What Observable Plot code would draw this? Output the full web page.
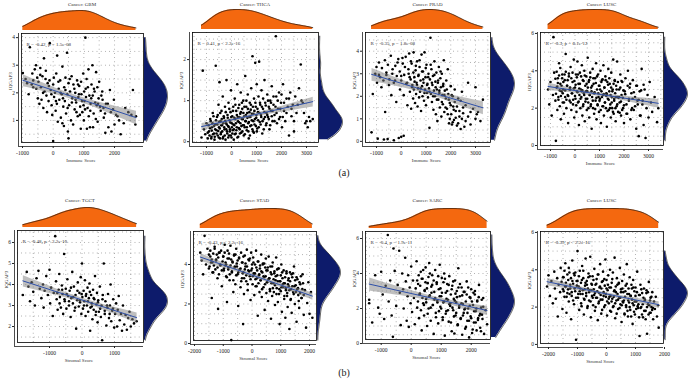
<!DOCTYPE html>
<html><head><meta charset="utf-8">
<script src="https://cdn.jsdelivr.net/npm/d3@7"></script>
<script src="https://cdn.jsdelivr.net/npm/@observablehq/plot@0.6"></script>
<style>
html,body{margin:0;padding:0;background:#fff;}
#chart{position:relative;width:688px;height:386px;overflow:hidden;font-family:"Liberation Serif","DejaVu Serif",serif;}
#chart svg{position:absolute;}
.lbl{position:absolute;white-space:nowrap;transform:translate(-50%,-50%);color:#333;line-height:1;}
</style></head><body><div id="chart"></div>
<script>
// ---- data (x = score, y = IQGAP3 expression) ----
const gbmPoints = [[-990,2.72],[-900,2.5],[-850,2.35],[-800,1.95],[-760,3.65],[-700,2.3],[-680,2.7],[-650,2.45],[-600,2.85],[-560,3.0],[-550,2.15],[-520,2.55],[-500,1.8],[-480,2.4],[-450,1.6],[-420,2.9],[-400,2.2],[-380,1.75],[-350,2.6],[-320,1.45],[-300,3.25],[-280,2.05],[-250,2.5],[-220,1.9],[-200,1.3],[-180,2.35],[-150,1.7],[-120,2.45],[-110,3.8],[-80,2.1],[-50,1.55],[-30,1.2],[0,0.25],[0,2.3],[30,1.85],[60,2.0],[80,1.35],[100,2.7],[120,1.6],[130,3.35],[150,0.95],[180,2.15],[200,1.75],[230,2.45],[250,1.1],[280,1.95],[300,2.95],[300,0.9],[330,1.5],[350,0.8],[360,2.2],[380,1.7],[400,2.55],[420,1.25],[450,3.45],[460,1.95],[480,0.6],[500,0.35],[500,2.35],[520,1.55],[550,2.05],[580,1.0],[600,2.6],[620,1.8],[650,0.85],[660,2.3],[700,1.4],[720,2.0],[750,1.65],[780,2.45],[800,1.15],[820,1.85],[850,2.25],[880,1.5],[900,0.7],[920,1.95],[950,1.3],[980,2.7],[1000,1.0],[1020,1.7],[1050,4.0],[1060,2.15],[1100,0.7],[1120,1.45],[1150,2.85],[1180,1.9],[1200,0.75],[1220,1.6],[1250,2.3],[1280,3.0],[1300,0.75],[1320,1.25],[1350,2.05],[1400,2.75],[1420,1.55],[1450,0.95],[1480,1.8],[1500,2.4],[1550,1.35],[1600,2.05],[1650,1.1],[1700,0.55],[1720,1.6],[1800,0.75],[1850,2.1],[1900,0.6],[1950,1.4],[2000,0.85],[2050,1.2],[2100,1.15],[2200,0.5],[2300,0.9],[2450,1.3],[2550,1.2],[2600,2.1],[2680,0.85],[2700,1.15]];
const gbmCorePoints = [[-650,2.2],[-420,2.65],[-330,2.0],[-240,2.8],[-140,2.25],[-60,1.95],[20,2.55],[90,1.7],[170,2.4],[240,2.0],[320,1.8],[400,2.1],[470,1.45],[540,2.5],[610,1.65],[690,2.15],[760,1.3],[840,1.95],[910,2.4],[990,1.55],[1070,1.85],[1130,2.2],[1210,1.35],[1290,1.9],[1370,1.65],[1440,2.2],[1530,1.5],[1610,1.75],[1690,1.25],[1780,1.6],[1880,1.3],[1980,1.75],[2150,1.0],[2350,1.45],[730,1.75],[810,2.3],[870,1.2],[940,1.7],[1010,2.05],[1040,1.4],[1090,2.5],[1160,1.15],[1240,1.8],[1330,2.15],[1390,1.05],[1460,1.6],[1570,1.9],[1640,1.45]];
const thcaPoints = [[-1200,0.1],[-1150,1.73],[-1100,0.3],[-1050,0.18],[-1000,0.45],[-950,0.08],[-900,0.25],[-850,0.55],[-800,0.12],[-780,0.35],[-750,0.7],[-700,0.2],[-680,0.05],[-650,0.42],[-630,1.85],[-600,0.28],[-580,0.6],[-550,0.15],[-520,0.9],[-500,0.35],[-480,1.45],[-460,0.08],[-440,0.5],[-420,0.22],[-400,0.75],[-380,0.4],[-350,1.1],[-330,0.12],[-300,0.58],[-280,0.3],[-260,0.85],[-240,0.05],[-220,0.45],[-200,1.5],[-180,0.25],[-160,0.65],[-140,0.38],[-120,0.95],[-100,0.15],[-80,0.52],[-60,0.3],[-40,0.72],[-20,1.25],[0,0.1],[10,0.45],[30,0.62],[50,0.28],[70,0.85],[90,0.05],[110,0.4],[130,1.05],[150,0.55],[170,0.2],[190,0.75],[210,0.35],[230,1.4],[250,0.6],[270,0.12],[290,0.48],[310,0.9],[330,0.3],[350,0.68],[370,1.2],[390,0.22],[410,0.55],[430,0.8],[450,0.4],[470,1.0],[490,0.15],[510,0.62],[530,0.35],[550,1.6],[570,0.5],[590,0.85],[610,0.28],[630,0.7],[650,1.15],[670,0.45],[690,0.08],[710,0.6],[730,0.95],[750,0.38],[770,0.78],[790,1.3],[810,0.52],[840,2.08],[860,0.25],[880,0.68],[900,1.05],[920,0.42],[950,1.92],[970,0.85],[990,0.58],[1010,1.4],[1030,0.32],[1060,0.72],[1080,1.1],[1107,1.95],[1130,0.48],[1150,0.9],[1180,0.65],[1200,1.25],[1230,0.2],[1260,0.8],[1290,0.55],[1320,1.5],[1350,0.95],[1380,0.4],[1400,0.7],[1430,1.15],[1460,0.6],[1490,0.85],[1520,0.3],[1550,1.0],[1580,0.75],[1610,1.35],[1640,0.5],[1680,0.9],[1720,0.65],[1773,2.57],[1790,1.1],[1820,0.45],[1860,0.8],[1900,1.2],[1940,0.6],[1980,0.95],[2020,0.35],[2060,1.4],[2100,0.75],[2150,0.5],[2200,1.05],[2250,0.85],[2300,0.15],[2350,1.2],[2400,0.62],[2450,0.9],[2500,0.25],[2550,1.1],[2600,0.7],[2700,1.3],[2770,1.88],[2850,0.95],[2950,0.45],[3050,0.35],[3150,0.5],[3250,0.55]];
const thcaCorePoints = [[-950,0.22],[-920,0.4],[-880,0.15],[-860,0.33],[-830,0.5],[-810,0.08],[-790,0.27],[-760,0.45],[-740,0.18],[-720,0.62],[-700,0.38],[-670,0.12],[-650,0.3],[-620,0.52],[-600,0.2],[-570,0.42],[-550,0.65],[-530,0.26],[-510,0.1],[-490,0.48],[-470,0.32],[-450,0.7],[-430,0.18],[-410,0.4],[-390,0.55],[-370,0.25],[-350,0.08],[-330,0.45],[-310,0.62],[-290,0.35],[-270,0.15],[-250,0.5],[-230,0.72],[-210,0.3],[-190,0.42],[-170,0.2],[-150,0.58],[-130,0.1],[-110,0.36],[-90,0.8],[-70,0.25],[-50,0.47],[-30,0.15],[-10,0.6],[15,0.35],[35,0.2],[55,0.75],[75,0.42],[95,0.3],[115,0.58],[135,0.18],[155,0.9],[175,0.45],[195,0.28],[215,0.65],[235,0.1],[255,0.5],[275,0.82],[295,0.33],[315,0.6],[335,0.2],[355,0.45],[375,0.72],[395,0.38],[415,0.95],[435,0.25],[455,0.55],[475,0.7],[495,0.4],[515,0.85],[535,0.18],[555,0.5],[575,0.65],[595,1.0],[615,0.35],[635,0.58],[655,0.8],[675,0.25],[695,0.48],[715,0.72],[735,0.15],[755,0.6],[775,0.9],[795,0.4],[815,0.68],[835,0.3],[855,0.85],[875,0.5],[895,0.22],[915,0.75],[935,0.55],[955,0.95],[975,0.38],[995,0.65],[1015,0.25],[1040,0.8],[1065,0.52],[1090,0.35],[1115,0.7],[1140,0.95],[1165,0.42],[1190,0.6],[1215,0.85],[1240,0.5],[1265,1.05],[1290,0.3],[1315,0.72],[1340,0.6],[1370,0.88],[1400,0.45],[1430,0.65],[1460,1.0],[1490,0.55],[1520,0.8],[1550,0.4],[1580,0.95],[1610,0.62],[1640,0.75],[1680,1.1],[1720,0.5],[1760,0.85],[1800,0.7],[1850,1.0],[1900,0.55],[1950,0.8],[2000,1.15],[2050,0.6],[2100,0.95],[2200,0.7],[2300,1.05],[2400,0.8],[2500,0.5],[2650,0.9],[2800,1.0],[2900,0.7],[3000,0.5],[3100,0.6]];
const pradPoints = [[-1200,0.4],[-1150,2.1],[-1000,3.3],[-950,0.12],[-900,2.95],[-800,2.4],[-700,0.08],[-650,1.3],[-600,3.05],[-550,0.1],[-500,2.5],[-400,2.05],[-350,3.2],[-300,0.05],[-250,2.7],[-200,1.75],[-150,3.5],[-100,0.15],[-50,2.3],[0,0.2],[0,2.9],[50,3.7],[100,0.25],[100,2.05],[150,3.3],[200,2.55],[250,1.6],[300,3.0],[320,3.9],[350,2.2],[380,2.75],[400,1.45],[420,3.45],[450,2.5],[480,1.9],[500,3.95],[510,2.3],[530,2.85],[560,1.7],[580,3.15],[600,2.1],[620,2.6],[640,3.55],[660,1.55],[680,2.35],[700,2.95],[720,1.95],[740,3.3],[760,2.2],[780,2.7],[800,1.35],[820,3.85],[840,2.45],[860,2.0],[880,3.1],[900,2.6],[920,1.8],[940,3.95],[960,2.3],[980,2.85],[1000,1.6],[1020,3.4],[1040,2.15],[1060,2.55],[1080,1.95],[1100,3.0],[1120,2.35],[1140,0.6],[1160,2.75],[1180,4.6],[1200,2.1],[1220,3.2],[1240,1.75],[1260,2.5],[1280,2.9],[1300,1.4],[1320,2.25],[1340,3.55],[1360,2.0],[1380,2.65],[1400,1.2],[1420,3.05],[1440,2.3],[1460,0.9],[1480,2.6],[1500,1.85],[1520,3.3],[1540,2.15],[1560,1.5],[1580,2.8],[1600,2.4],[1620,1.1],[1640,3.0],[1660,2.05],[1680,1.65],[1700,2.55],[1720,3.6],[1740,1.3],[1760,2.25],[1800,1.9],[1820,2.7],[1850,1.45],[1880,3.2],[1900,2.1],[1930,0.8],[1960,1.7],[2000,2.45],[2020,1.2],[2050,0.75],[2080,2.0],[2100,1.55],[2130,0.95],[2160,2.3],[2200,1.35],[2250,0.7],[2300,1.9],[2350,1.1],[2400,0.55],[2450,2.2],[2500,1.5],[2600,0.9],[2700,2.6],[2800,1.3],[3000,2.4],[3050,1.2],[3200,0.9],[3300,1.85]];
const pradCorePoints = [[-1050,3.0],[-980,2.6],[-900,3.5],[-850,2.85],[-780,3.25],[-720,2.7],[-660,3.6],[-600,2.95],[-540,3.4],[-480,2.75],[-420,3.8],[-360,3.0],[-300,2.6],[-240,3.35],[-180,2.9],[-120,3.65],[-60,3.1],[0,2.7],[60,3.45],[120,2.95],[180,3.75],[240,2.6],[290,3.2],[340,2.85],[390,3.55],[440,2.4],[490,3.05],[540,2.65],[590,3.35],[640,2.5],[690,2.9],[740,3.6],[790,2.35],[840,3.1],[890,2.75],[940,2.15],[990,3.25],[1040,2.5],[1090,2.85],[1140,2.2],[1190,3.4],[1240,2.6],[1290,2.0],[1340,2.95],[1390,2.4],[1440,1.85],[1490,2.7],[1540,2.25],[1590,3.1],[1640,1.75],[1690,2.45],[1740,2.05],[1790,1.5],[1840,2.3],[1880,1.2],[1920,1.85],[1960,1.0],[2000,1.6],[2040,2.05],[2080,0.85],[2120,1.4],[2160,1.75],[2200,1.05],[2250,1.55],[2300,0.8],[2350,1.35],[2400,1.8],[2450,1.0],[2500,1.25],[2550,0.65],[2600,1.6],[2700,1.1],[2800,0.75],[2900,1.45],[3000,1.0],[3100,1.3]];
const luscImmunePoints = [[-1100,3.0],[-1050,2.2],[-1000,3.4],[-950,1.6],[-900,2.7],[-880,5.8],[-850,3.9],[-800,2.4],[-780,0.25],[-750,3.1],[-720,1.9],[-700,3.6],[-680,2.6],[-650,4.4],[-620,2.1],[-600,3.3],[-580,1.4],[-550,2.9],[-520,3.8],[-500,2.3],[-480,3.0],[-450,1.7],[-420,3.5],[-400,2.6],[-380,4.9],[-350,2.0],[-320,3.2],[-300,2.7],[-280,1.2],[-250,3.7],[-220,2.4],[-200,3.0],[-180,4.2],[-150,1.9],[-120,2.8],[-100,3.4],[-80,2.2],[-50,4.6],[-30,1.5],[0,3.1],[20,2.5],[40,3.8],[60,1.8],[80,2.9],[100,4.5],[120,2.3],[140,3.3],[160,1.1],[180,2.7],[200,3.9],[220,2.0],[240,3.0],[260,2.6],[280,4.3],[300,1.6],[320,3.5],[340,2.2],[360,2.8],[380,4.0],[400,1.3],[420,3.2],[440,2.5],[460,3.7],[480,1.9],[500,2.9],[520,4.7],[540,2.3],[560,3.4],[580,1.5],[600,2.7],[620,3.9],[640,2.1],[660,3.1],[680,0.9],[700,2.6],[720,4.1],[740,2.0],[760,3.3],[780,1.7],[800,2.8],[820,3.6],[840,2.4],[860,4.4],[880,1.4],[900,3.0],[920,2.2],[940,3.8],[960,2.6],[980,1.8],[1000,3.2],[1020,2.5],[1040,4.0],[1060,1.2],[1080,2.9],[1100,3.5],[1120,2.1],[1140,2.7],[1160,4.3],[1180,1.6],[1200,3.1],[1220,2.3],[1240,3.7],[1260,2.0],[1280,2.8],[1300,1.0],[1320,3.4],[1340,2.5],[1360,4.1],[1380,1.9],[1400,2.9],[1420,3.3],[1440,2.2],[1460,1.5],[1480,3.9],[1500,2.6],[1520,2.0],[1540,3.0],[1560,4.6],[1580,1.7],[1600,2.4],[1620,3.5],[1640,2.8],[1660,1.3],[1680,3.2],[1700,2.1],[1720,4.5],[1740,2.6],[1760,1.8],[1800,3.0],[1820,2.3],[1850,3.8],[1880,1.6],[1900,2.7],[1930,3.4],[1960,2.0],[2000,1.2],[2030,2.9],[2060,3.6],[2100,2.2],[2130,1.7],[2160,4.0],[2200,2.5],[2230,3.1],[2260,1.4],[2300,2.8],[2330,2.0],[2360,3.5],[2400,1.9],[2450,2.6],[2500,0.9],[2530,3.2],[2560,2.2],[2600,0.5],[2640,2.9],[2680,1.6],[2720,4.1],[2760,2.4],[2800,1.1],[2840,3.0],[2880,0.4],[2920,2.0],[2960,2.7],[3000,1.5],[3050,3.4],[3100,2.3],[3150,1.8],[3250,2.6],[3350,1.25],[3400,2.0]];
const luscImmuneCorePoints = [[-800,3.57],[-775,2.77],[-750,3.95],[-725,3.15],[-700,3.35],[-675,2.45],[-650,3.75],[-625,2.95],[-600,4.15],[-575,2.65],[-550,3.2],[-525,3.6],[-500,2.8],[-475,3.4],[-450,2.3],[-425,3.8],[-400,2.95],[-375,3.95],[-350,2.45],[-325,3.2],[-300,3.5],[-275,2.65],[-250,3.85],[-225,3.0],[-200,3.1],[-175,2.3],[-150,3.6],[-125,2.8],[-100,3.9],[-75,2.45],[-50,3.05],[-25,3.45],[0,2.65],[25,3.25],[50,2.15],[75,3.65],[100,2.85],[125,3.8],[150,2.35],[175,3.05],[200,3.3],[225,2.5],[250,3.7],[275,2.9],[300,2.95],[325,2.1],[350,3.45],[375,2.7],[400,3.75],[425,2.35],[450,2.9],[475,3.3],[500,2.5],[525,3.1],[550,2.0],[575,3.5],[600,2.7],[625,3.65],[650,2.2],[675,2.9],[700,3.2],[725,2.4],[750,3.6],[775,2.8],[800,2.85],[825,1.95],[850,3.35],[875,2.55],[900,3.7],[925,2.15],[950,2.8],[975,3.2],[1000,2.4],[1025,3.0],[1050,1.9],[1075,3.4],[1100,2.6],[1125,3.55],[1150,2.1],[1175,2.75],[1200,3.1],[1225,2.3],[1250,3.5],[1275,2.65],[1300,2.75],[1325,1.85],[1350,3.25],[1375,2.45],[1400,3.6],[1425,2.0],[1450,2.7],[1475,3.1],[1500,2.3],[1525,2.9],[1550,1.8],[1575,3.3],[1600,2.5],[1625,3.45],[1650,2.0],[1675,2.6],[1700,3.0],[1725,2.2],[1750,3.4],[1775,2.55],[1800,2.6],[1825,1.75],[1850,3.1],[1875,2.35],[1900,3.45],[1925,1.9],[1950,2.55],[1975,2.95],[2000,2.15],[2050,2.75],[2100,1.7],[2150,3.2],[2200,2.4],[2250,3.3],[2300,1.9],[2350,2.5],[2400,2.85],[2450,2.1],[2500,3.2],[2550,2.4],[2600,2.45],[2650,1.6],[2700,2.95],[2750,2.2],[2800,3.25]];
const tgctPoints = [[-1820,3.5],[-1700,4.6],[-1650,3.9],[-1600,3.2],[-1550,4.1],[-1500,3.65],[-1450,3.0],[-1400,4.3],[-1340,4.65],[-1300,3.8],[-1250,3.35],[-1200,4.0],[-1180,2.9],[-1150,3.7],[-1100,4.4],[-1050,3.5],[-1000,4.7],[-980,3.1],[-950,3.85],[-900,2.5],[-870,3.6],[-825,6.3],[-800,4.15],[-780,3.3],[-750,2.8],[-720,3.75],[-700,4.5],[-680,3.4],[-650,2.9],[-620,3.95],[-600,3.55],[-580,2.6],[-550,5.45],[-530,3.2],[-500,3.8],[-480,2.85],[-450,4.25],[-430,3.45],[-400,3.0],[-380,3.7],[-350,2.45],[-330,3.35],[-300,4.6],[-280,3.1],[-250,3.9],[-230,2.75],[-200,3.5],[-180,1.9],[-150,3.25],[-130,4.1],[-100,2.95],[-80,3.6],[-60,3.15],[-40,4.35],[-20,2.6],[0,5.0],[10,3.4],[30,2.85],[50,3.7],[70,3.2],[90,4.2],[110,2.5],[130,3.55],[150,3.0],[170,3.85],[190,2.7],[210,3.35],[230,4.05],[250,1.8],[260,2.9],[280,3.5],[300,3.1],[320,2.35],[340,3.75],[360,2.8],[380,3.3],[400,4.4],[420,2.55],[440,3.05],[460,3.6],[480,2.2],[500,3.25],[520,2.7],[550,3.9],[580,2.45],[600,3.0],[620,1.35],[640,3.5],[670,5.0],[700,2.6],[720,3.2],[750,2.05],[780,2.9],[800,3.55],[830,2.4],[860,3.0],[880,4.0],[900,2.25],[930,2.75],[960,3.3],[990,1.95],[1020,2.6],[1050,3.1],[1080,2.0],[1100,2.8],[1130,3.45],[1160,2.3],[1200,2.6],[1230,1.8],[1260,3.0],[1300,2.1],[1340,2.55],[1380,1.85],[1420,2.4],[1460,2.7],[1500,2.0],[1550,2.35],[1600,2.15],[1680,2.25]];
const tgctCorePoints = [[-760,3.6],[-690,3.1],[-610,3.75],[-540,3.3],[-470,3.55],[-400,3.2],[-340,3.85],[-270,3.4],[-210,2.9],[-140,3.7],[-70,3.25],[-10,3.55],[60,3.0],[120,3.45],[180,3.2],[240,3.65],[300,2.95],[360,3.35],[430,2.7],[490,3.15],[560,2.85],[630,3.3],[700,2.75],[770,3.0],[850,2.6],[950,2.85]];
const stadPoints = [[-1800,4.6],[-1750,4.2],[-1700,3.5],[-1650,5.45],[-1600,4.0],[-1550,4.8],[-1500,3.8],[-1450,4.4],[-1400,2.3],[-1380,4.1],[-1350,3.6],[-1300,4.9],[-1250,4.25],[-1200,3.3],[-1180,1.75],[-1150,4.6],[-1100,3.95],[-1050,2.9],[-1000,4.4],[-980,3.7],[-950,5.0],[-920,4.1],[-900,3.4],[-870,2.1],[-850,4.7],[-820,3.85],[-800,4.3],[-780,3.2],[-750,4.95],[-720,0.17],[-700,3.6],[-680,4.15],[-650,2.6],[-620,4.5],[-600,3.9],[-580,3.0],[-550,4.8],[-530,4.05],[-500,3.5],[-480,1.9],[-450,4.3],[-420,3.75],[-400,2.85],[-380,4.6],[-350,3.3],[-330,4.1],[-310,0.98],[-300,3.6],[-280,2.5],[-250,4.45],[-230,3.9],[-200,3.15],[-180,4.75],[-150,2.7],[-130,3.7],[-100,4.2],[-80,3.4],[-50,2.2],[-30,4.6],[0,3.8],[20,3.0],[40,4.35],[60,3.55],[80,2.45],[100,4.0],[120,3.25],[140,4.7],[160,2.9],[180,3.7],[200,1.4],[220,4.15],[240,3.45],[260,2.6],[280,3.95],[300,3.2],[320,4.5],[340,2.35],[360,3.6],[380,4.05],[400,2.85],[420,3.35],[440,1.7],[460,3.85],[480,4.3],[500,2.55],[520,3.1],[540,3.7],[560,2.15],[580,4.4],[600,3.3],[620,2.75],[640,3.9],[660,1.25],[680,3.5],[700,2.4],[720,4.1],[740,3.05],[760,2.6],[780,3.65],[800,1.95],[820,3.2],[840,4.35],[860,2.8],[880,3.45],[900,2.1],[920,3.8],[940,2.5],[960,0.98],[980,3.15],[1000,2.65],[1020,4.0],[1040,1.6],[1060,3.3],[1080,2.85],[1100,3.7],[1120,2.25],[1140,3.05],[1160,1.3],[1180,2.7],[1200,3.55],[1220,2.4],[1240,1.85],[1260,3.2],[1280,2.9],[1300,0.73],[1320,3.6],[1340,2.2],[1360,2.75],[1380,1.55],[1400,3.35],[1430,2.6],[1460,3.9],[1490,2.0],[1520,2.95],[1550,1.1],[1580,3.25],[1610,2.45],[1640,1.8],[1680,3.0],[1720,2.3],[1760,3.5],[1800,1.45],[1840,2.7],[1880,0.8],[1920,2.05],[1960,3.1],[2000,1.5],[2050,2.6],[2100,1.3]];
const stadCorePoints = [[-1500,4.5],[-1475,3.9],[-1450,4.7],[-1425,4.1],[-1400,4.25],[-1375,3.6],[-1350,4.55],[-1325,3.95],[-1300,4.8],[-1275,3.75],[-1250,4.2],[-1225,4.5],[-1200,3.85],[-1175,4.35],[-1150,3.5],[-1125,4.6],[-1100,4.0],[-1075,4.7],[-1050,3.7],[-1025,4.15],[-1000,4.4],[-975,3.8],[-950,4.6],[-925,3.95],[-900,4.0],[-875,3.35],[-850,4.3],[-825,3.75],[-800,4.55],[-775,3.5],[-750,3.95],[-725,4.25],[-700,3.65],[-675,4.1],[-650,3.2],[-625,4.45],[-600,3.85],[-575,4.5],[-550,3.45],[-525,3.9],[-500,4.2],[-475,3.6],[-450,4.35],[-425,3.75],[-400,3.8],[-375,3.15],[-350,4.1],[-325,3.55],[-300,4.4],[-275,3.3],[-250,3.75],[-225,4.05],[-200,3.45],[-175,3.9],[-150,3.0],[-125,4.25],[-100,3.65],[-75,4.3],[-50,3.25],[-25,3.7],[0,4.0],[25,3.4],[50,4.1],[75,3.5],[100,3.55],[125,2.9],[150,3.85],[175,3.3],[200,4.15],[225,3.05],[250,3.5],[275,3.8],[300,3.2],[325,3.65],[350,2.75],[375,4.0],[400,3.4],[425,4.05],[450,3.0],[475,3.4],[500,3.7],[525,3.1],[550,3.85],[575,3.25],[600,3.3],[625,2.65],[650,3.6],[675,3.05],[700,3.9],[725,2.8],[750,3.25],[775,3.55],[800,2.95],[825,3.4],[850,2.5],[875,3.75],[900,3.15],[925,3.8],[950,2.75],[975,3.15],[1000,3.45],[1025,2.85],[1050,3.6],[1075,3.0],[1100,3.05],[1125,2.4],[1150,3.35],[1175,2.8],[1200,3.65],[1225,2.55],[1250,3.0],[1275,3.3],[1300,2.7],[1325,3.15],[1350,2.25],[1375,3.5],[1400,2.9],[1425,3.55],[1450,2.5],[1475,2.9],[1500,3.2],[1525,2.6],[1550,3.35],[1575,2.75],[1600,2.8],[1625,2.15],[1650,3.1],[1675,2.55],[1700,3.4],[1725,2.3],[1750,2.75],[1775,3.05],[1800,2.45]];
const sarcPoints = [[-1400,2.5],[-1400,2.3],[-1300,1.2],[-1200,3.9],[-1100,2.05],[-1050,1.7],[-1000,4.1],[-950,2.8],[-900,1.4],[-850,3.3],[-780,6.2],[-750,2.4],[-700,3.6],[-650,1.6],[-610,0.38],[-590,5.43],[-550,4.15],[-500,2.15],[-450,3.35],[-400,5.3],[-380,2.9],[-350,1.05],[-300,4.0],[-270,3.1],[-250,2.0],[-200,4.9],[-180,3.55],[-150,1.3],[-120,2.7],[-100,3.9],[-80,0.95],[-50,3.2],[-20,2.3],[0,4.4],[30,1.8],[60,3.6],[90,2.6],[120,1.1],[150,3.15],[180,4.7],[200,2.05],[230,3.4],[260,1.45],[290,2.85],[320,4.1],[350,0.75],[380,3.7],[400,2.3],[430,1.6],[450,3.05],[480,4.35],[500,2.55],[530,1.0],[550,3.45],[580,2.0],[600,4.6],[620,2.75],[650,1.3],[670,3.25],[700,3.9],[720,2.2],[750,0.55],[770,2.95],[800,4.2],[820,1.75],[850,3.5],[870,2.45],[900,1.15],[920,3.1],[950,4.5],[970,2.1],[1000,2.7],[1020,3.75],[1050,1.5],[1070,2.35],[1100,4.0],[1120,0.45],[1150,2.9],[1170,1.85],[1200,3.4],[1220,2.5],[1250,1.25],[1270,3.85],[1300,2.15],[1320,2.8],[1350,0.7],[1370,3.3],[1400,1.9],[1420,2.55],[1440,0.57],[1460,3.6],[1480,1.6],[1500,2.35],[1520,3.0],[1550,1.1],[1570,4.3],[1600,2.05],[1620,2.7],[1650,1.4],[1680,3.2],[1700,0.5],[1720,2.25],[1750,1.75],[1780,2.95],[1800,0.85],[1820,2.4],[1850,3.55],[1870,1.3],[1900,2.0],[1930,0.35],[1950,2.65],[1980,1.55],[2000,3.1],[2030,0.6],[2060,2.2],[2090,1.2],[2120,2.8],[2150,1.85],[2180,0.75],[2200,2.45],[2230,1.45],[2260,3.35],[2300,0.9],[2330,2.05],[2360,1.65],[2400,2.6],[2430,0.55],[2480,1.9],[2530,1.1]];
const sarcCorePoints = [[200,3.6],[225,2.4],[250,3.9],[275,2.8],[300,3.3],[325,1.9],[350,3.7],[375,2.6],[400,4.2],[425,2.2],[450,3.0],[475,3.5],[500,2.35],[525,3.15],[550,1.7],[575,3.8],[600,2.7],[625,4.0],[650,2.05],[675,2.9],[700,3.35],[725,2.2],[750,3.6],[775,2.5],[800,2.6],[825,1.5],[850,3.4],[875,2.35],[900,3.85],[925,1.85],[950,2.7],[975,3.15],[1000,2.0],[1025,2.9],[1050,1.35],[1075,3.5],[1100,2.4],[1125,3.7],[1150,1.7],[1175,2.55],[1200,3.0],[1225,1.9],[1250,3.35],[1275,2.25],[1300,2.3],[1325,1.2],[1350,3.1],[1375,2.05],[1400,3.55],[1425,1.55],[1450,2.45],[1475,2.85],[1500,1.75],[1525,2.65],[1550,1.05],[1575,3.2],[1600,2.15],[1625,3.4],[1650,1.45],[1675,2.3],[1700,2.75],[1725,1.6],[1750,2.95],[1775,1.95],[1800,2.0],[1825,0.95],[1850,2.8],[1875,1.75],[1900,3.2],[1925,1.3],[1950,2.15],[1975,2.6],[2000,1.45],[2025,2.4],[2050,0.8],[2075,2.9],[2100,1.85],[2125,3.0],[2150,1.2],[2175,2.0],[2200,2.4],[2225,1.35],[2250,2.65],[2275,1.6],[2300,1.7],[2325,0.7],[2350,2.5],[2375,1.4],[2400,2.1]];
const luscStromalPoints = [[-2050,3.1],[-2000,3.7],[-1950,2.6],[-1900,3.4],[-1850,2.2],[-1800,3.9],[-1780,3.0],[-1750,2.45],[-1700,3.55],[-1680,1.5],[-1650,3.2],[-1600,2.8],[-1580,4.1],[-1550,3.35],[-1520,1.9],[-1500,2.95],[-1480,3.6],[-1450,2.55],[-1420,4.35],[-1400,3.1],[-1380,1.7],[-1350,2.75],[-1320,3.45],[-1300,2.3],[-1280,3.85],[-1250,3.0],[-1220,1.35],[-1200,2.6],[-1180,4.5],[-1150,3.25],[-1120,2.15],[-1100,3.7],[-1080,2.85],[-1050,0.25],[-1030,3.4],[-1000,5.0],[-980,2.5],[-960,3.1],[-940,1.85],[-920,3.95],[-900,2.7],[-880,3.3],[-860,2.05],[-840,4.2],[-820,2.9],[-800,3.55],[-780,1.6],[-760,2.4],[-740,3.15],[-720,4.6],[-700,2.75],[-680,3.4],[-660,1.95],[-640,3.0],[-620,3.8],[-600,2.35],[-580,2.9],[-560,4.7],[-540,1.45],[-520,3.25],[-500,2.6],[-480,3.65],[-460,2.1],[-440,2.95],[-420,4.05],[-400,1.8],[-380,3.2],[-360,2.5],[-340,3.5],[-320,2.85],[-300,1.3],[-280,3.75],[-260,2.3],[-240,3.05],[-220,4.3],[-200,2.65],[-180,1.65],[-160,3.35],[-140,2.4],[-120,3.9],[-100,2.8],[-80,2.0],[-60,3.15],[-40,4.55],[-20,2.55],[0,3.45],[20,1.55],[40,2.9],[60,3.7],[80,2.2],[100,3.05],[120,4.0],[140,2.6],[160,1.75],[180,3.3],[200,2.45],[220,3.85],[240,2.05],[260,2.85],[280,4.65],[300,1.4],[320,3.1],[340,2.35],[360,3.55],[380,2.7],[400,1.9],[420,3.25],[440,2.5],[460,4.1],[480,2.15],[500,2.95],[520,1.2],[540,3.4],[560,2.3],[580,2.8],[600,3.75],[620,1.65],[640,2.55],[660,3.15],[680,2.0],[700,4.3],[720,2.7],[740,1.5],[760,3.0],[780,2.25],[800,3.6],[820,1.85],[840,2.6],[860,3.2],[880,2.4],[900,1.1],[920,3.45],[940,2.1],[960,2.85],[980,1.6],[1000,3.05],[1030,2.3],[1060,3.9],[1090,1.95],[1120,2.65],[1140,0.45],[1170,3.2],[1200,2.0],[1230,2.75],[1260,1.45],[1290,3.0],[1320,2.35],[1350,1.8],[1380,2.9],[1400,0.57],[1430,2.15],[1460,3.35],[1490,1.7],[1520,2.5],[1550,2.0],[1580,2.8],[1610,1.35],[1640,2.3],[1670,1.9],[1700,2.55],[1740,1.5],[1780,2.1],[1800,0.9]];
const luscStromalCorePoints = [[-1500,3.6],[-1475,2.85],[-1450,3.95],[-1425,3.1],[-1400,3.3],[-1375,2.55],[-1350,3.75],[-1325,2.95],[-1300,4.1],[-1275,2.7],[-1250,3.2],[-1225,3.55],[-1200,2.8],[-1175,3.4],[-1150,2.35],[-1125,3.8],[-1100,3.0],[-1075,3.85],[-1050,2.5],[-1025,3.15],[-1000,3.4],[-975,2.7],[-950,3.65],[-925,2.85],[-900,3.0],[-875,2.2],[-850,3.45],[-825,2.7],[-800,3.95],[-775,2.45],[-750,2.95],[-725,3.3],[-700,2.6],[-675,3.2],[-650,2.05],[-625,3.6],[-600,2.8],[-575,3.65],[-550,2.3],[-525,2.9],[-500,3.2],[-475,2.5],[-450,3.45],[-425,2.65],[-400,2.75],[-375,2.0],[-350,3.25],[-325,2.5],[-300,3.75],[-275,2.2],[-250,2.75],[-225,3.1],[-200,2.4],[-175,3.0],[-150,1.85],[-125,3.4],[-100,2.6],[-75,3.5],[-50,2.1],[-25,2.7],[0,3.0],[25,2.3],[50,3.2],[75,2.45],[100,2.55],[125,1.8],[150,3.05],[175,2.3],[200,3.5],[225,2.0],[250,2.55],[275,2.9],[300,2.2],[325,2.8],[350,1.65],[375,3.2],[400,2.4],[425,3.3],[450,1.95],[475,2.5],[500,2.8],[525,2.1],[550,3.0],[575,2.25],[600,2.35],[625,1.6],[650,2.85],[675,2.1],[700,3.25],[725,1.8],[750,2.35],[775,2.7],[800,2.0],[825,2.6],[850,1.5],[875,3.0],[900,2.2],[925,3.05],[950,1.75],[975,2.3],[1000,2.6],[1025,1.9],[1050,2.8],[1075,2.05],[1100,2.15],[1125,1.45],[1150,2.65],[1175,1.95],[1200,2.95],[1225,1.6],[1250,2.15],[1275,2.5],[1300,1.8],[1325,2.4],[1350,1.35],[1375,2.75],[1400,2.0],[1425,2.8],[1450,1.6],[1475,2.1],[1500,2.35],[1525,1.7],[1550,2.55],[1575,1.85],[1600,1.95]];

const titles = ["Cancer: GBM","Cancer: THCA","Cancer: PRAD","Cancer: LUSC","Cancer: TGCT","Cancer: STAD","Cancer: SARC","Cancer: LUSC"];
const annotations = ["R = -0.42, p = 1.5e-08","R = 0.41, p < 2.2e-16","R = -0.35, p = 1.8e-08","R = -0.3, p = 6.1e-12","R = -0.48, p = 2.2e-10","R = -0.43, p < 2.2e-16","R = -0.4, p = 1.9e-11","R = -0.39, p < 2.2e-16"];
const xTitles = ["Immune Score","Immune Score","Immune Score","Immune Score","Stromal Score","Stromal Score","Stromal Score","Stromal Score"];
const yTitle = "IQGAP3";
const xTickLabels = [[-1000,0,1000,2000],[-1000,0,1000,2000,3000],[-1000,0,1000,2000,3000],[-1000,0,1000,2000,3000],[-1000,0,1000],[-2000,-1000,0,1000,2000],[-1000,0,1000,2000],[-2000,-1000,0,1000,2000]];
const yTickLabels = [[1,2,3,4],[0,1,2],[0,1,2,3,4],[0,2,4,6],[2,3,4,5,6],[0,2,4],[0,2,4,6],[0,2,4,6]];
const panelLabels = ["(a)","(b)"];

// ---- layout (page pixels / scale domains) ----
const layout = [
  {box:[21,33,143,142], xd:[-1033,2945], yd:[0.2,4.15], yStep:0.5},
  {box:[192,32,318,142], xd:[-1560,3480], yd:[-0.02,2.66], yStep:0.25},
  {box:[365,32,490,142], xd:[-1444,3606], yd:[-0.05,4.83], yStep:0.5},
  {box:[540,32,663,145], xd:[-1408,3612], yd:[0,6.05], yStep:0.5},
  {box:[17,230,143,342], xd:[-1985,1892], yd:[1.24,6.57], yStep:0.5},
  {box:[193,231,316,340], xd:[-2035,2243], yd:[0.15,5.67], yStep:0.5},
  {box:[365,231,490,339], xd:[-1523,2643], yd:[0.23,6.4], yStep:0.5},
  {box:[540,231,663,343], xd:[-2276,1966], yd:[0.05,6.05], yStep:0.5}
];
const panelData = [
  gbmPoints.concat(gbmCorePoints),
  thcaPoints.concat(thcaCorePoints),
  pradPoints.concat(pradCorePoints),
  luscImmunePoints.concat(luscImmuneCorePoints),
  tgctPoints.concat(tgctCorePoints),
  stadPoints.concat(stadCorePoints),
  sarcPoints.concat(sarcCorePoints),
  luscStromalPoints.concat(luscStromalCorePoints)
];

const ORANGE = "#F4680F", NAVY = "#0D1B6B", LINE = "#2E4FA8";
const chart = document.getElementById("chart");

function kde(vals) {
  const s = vals.slice().sort(d3.ascending);
  const n = s.length;
  const sd = d3.deviation(s);
  const iqr = d3.quantileSorted(s, 0.75) - d3.quantileSorted(s, 0.25);
  const h = 1.0 * Math.min(sd, iqr / 1.34) * Math.pow(n, -0.2);
  const lo = s[0], hi = s[n - 1];
  return d3.range(0, 121).map(i => {
    const v = lo + (hi - lo) * i / 120;
    return {v, d: d3.mean(s, x => Math.exp(-0.5 * ((v - x) / h) ** 2))};
  });
}

function place(svg, left, top) {
  svg.style.left = left + "px";
  svg.style.top = top + "px";
  chart.appendChild(svg);
}
function label(text, x, y, size, color) {
  const d = document.createElement("div");
  d.className = "lbl";
  d.textContent = text;
  d.style.left = x + "px"; d.style.top = y + "px";
  d.style.fontSize = size + "px";
  if (color) d.style.color = color;
  chart.appendChild(d);
}

const ML = 12, MR = 2, MT = 2, MB = 22, INL = 3, INB = 4;
layout.forEach((L, i) => {
  const [bl, bt, br, bb] = L.box;
  const bw = br - bl, bh = bb - bt;
  const data = panelData[i];
  const W = ML + INL + bw + MR, H = MT + bh + INB + MB;
  const svgLeft = bl - INL - ML, svgTop = bt - MT;
  const xGrid = d3.range(Math.ceil(L.xd[0] / 500) * 500, L.xd[1], 500);
  const yGrid = d3.range(Math.ceil(L.yd[0] / L.yStep - 1e-9) * L.yStep, L.yd[1] + 1e-9, L.yStep);
  const sc = Plot.plot({
    width: W, height: H, marginLeft: ML, marginRight: MR, marginTop: MT, marginBottom: MB,
    x: {domain: L.xd, insetLeft: INL, axis: null},
    y: {domain: L.yd, insetBottom: INB, axis: null},
    style: {fontFamily: "Liberation Serif, serif", background: "transparent", overflow: "visible", color: "#222"},
    marks: [
      Plot.gridX(xGrid, {y1: L.yd[0], y2: L.yd[1], stroke: "#777", strokeOpacity: 1, strokeWidth: 0.7, strokeDasharray: "0.8,3.4"}),
      Plot.gridY(yGrid, {x1: L.xd[0], x2: L.xd[1], stroke: "#777", strokeOpacity: 1, strokeWidth: 0.7, strokeDasharray: "0.8,3.4"}),
      Plot.dot(data, {x: d => d[0], y: d => d[1], r: 1.3, fill: "#000", stroke: null}),
      Plot.linearRegressionY(data, {x: d => d[0], y: d => d[1], stroke: LINE, strokeWidth: 1, fill: "#808080", fillOpacity: 0.5, ci: 0.95}),
      Plot.frame({insetLeft: INL, insetBottom: INB, stroke: "#000", strokeWidth: 0.8}),
      Plot.ruleX([L.xd[0]], {dx: -INL, stroke: "#000", strokeWidth: 0.7}),
      Plot.ruleY([L.yd[0]], {dy: INB, stroke: "#000", strokeWidth: 0.7}),
      Plot.axisX(xTickLabels[i], {anchor: "bottom", tickSize: 2, tickPadding: 2.5, tickFormat: d => String(d), fontSize: 5.5, label: null}),
      Plot.axisY(yTickLabels[i], {anchor: "left", tickSize: 2, tickPadding: 1.5, tickFormat: d => String(d), fontSize: 5.5, label: null}),
      Plot.text([annotations[i]], {frameAnchor: "top-left", dx: INL + 5, dy: 9, textAnchor: "start", fontSize: 5, fill: "#333"}),
      Plot.text([yTitle], {frameAnchor: "left", dx: -8, rotate: -90, fontSize: 5, fill: "#333"}),
      Plot.text([xTitles[i]], {frameAnchor: "bottom", dy: 15, fontSize: 5, fill: "#333"})
    ]
  });
  place(sc, svgLeft, svgTop);

  // top marginal density (x)
  const kx = kde(data.map(d => d[0]));
  const TH = 21;
  const top = Plot.plot({
    width: W, height: TH, marginLeft: ML, marginRight: MR, marginTop: 1, marginBottom: 0,
    x: {domain: L.xd, insetLeft: INL, axis: null},
    y: {domain: [0, d3.max(kx, d => d.d)], axis: null},
    style: {background: "transparent", overflow: "visible"},
    marks: [
      Plot.areaY(kx, {x: "v", y: "d", fill: ORANGE}),
      Plot.lineY(kx, {x: "v", y: "d", stroke: "#111", strokeWidth: 0.7})
    ]
  });
  place(top, svgLeft, bt - 3 - TH);

  // right marginal density (y)
  const ky = kde(data.map(d => d[1]));
  const RW = 24;
  const right = Plot.plot({
    width: RW, height: H, marginLeft: 0, marginRight: 1, marginTop: MT, marginBottom: MB,
    y: {domain: L.yd, insetBottom: INB, axis: null},
    x: {domain: [0, d3.max(ky, d => d.d)], axis: null},
    style: {background: "transparent", overflow: "visible"},
    marks: [
      Plot.areaX(ky, {y: "v", x: "d", fill: NAVY}),
      Plot.lineX(ky, {y: "v", x: "d", stroke: "#111", strokeWidth: 0.7})
    ]
  });
  place(right, br + 0.5, svgTop);

  label(titles[i], (bl + br) / 2, i < 4 ? 4 : 200, 5, "#333");
});
label(panelLabels[0], 344, 173, 10, "#222");
label(panelLabels[1], 344, 373, 10, "#222");
</script></body></html>
